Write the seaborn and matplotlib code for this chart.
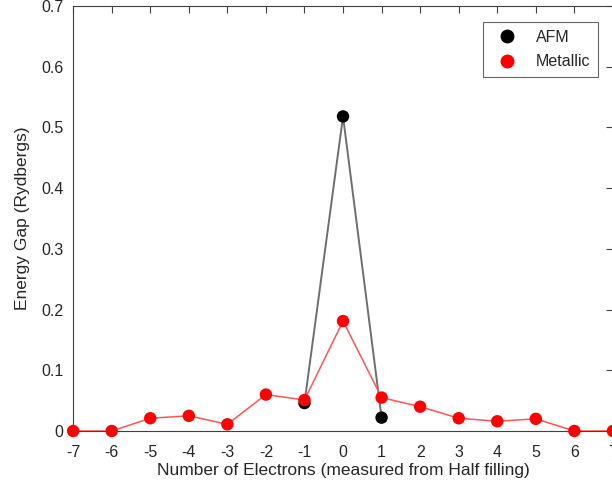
import matplotlib
matplotlib.use("Agg")
import matplotlib.pyplot as plt
import seaborn as sns
import pandas as pd
from matplotlib.lines import Line2D

sns.set_style("white")
plt.rcParams['font.family'] = ['Liberation Sans', 'DejaVu Sans']

afm_x = [-1, 0, 1]
afm_y = [0.046, 0.518, 0.022]
met_x = [-7, -6, -5, -4, -3, -2, -1, 0, 1, 2, 3, 4, 5, 6, 7]
met_y = [0.0, 0.0, 0.021, 0.025, 0.011, 0.060, 0.051, 0.181, 0.055, 0.040, 0.021, 0.016, 0.020, 0.0, 0.0]
xticks = list(range(-7, 8))
yticks = [0, 0.1, 0.2, 0.3, 0.4, 0.5, 0.6, 0.7]
ytick_labels = ["0", "0.1", "0.2", "0.3", "0.4", "0.5", "0.6", "0.7"]

afm = pd.DataFrame({"x": afm_x, "y": afm_y})
met = pd.DataFrame({"x": met_x, "y": met_y})

fig = plt.figure(figsize=(6.12, 4.92), dpi=100)
ax = fig.add_axes([0.1195, 0.124, 0.882, 0.864])

sns.lineplot(data=afm, x="x", y="y", ax=ax, color="#6e6e6e", linewidth=1.4, zorder=2)
sns.lineplot(data=met, x="x", y="y", ax=ax, color="#ff5555", linewidth=1.1, zorder=3)
sns.scatterplot(data=afm, x="x", y="y", ax=ax, color="black", s=80, edgecolor="none", zorder=4, clip_on=False)
sns.scatterplot(data=met, x="x", y="y", ax=ax, color="#ff0000", s=80, edgecolor="none", zorder=5, clip_on=False)

ax.set_xlim(-7, 7)
ax.set_ylim(0, 0.7)
ax.set_xticks(xticks)
ax.set_xticklabels([str(t) for t in xticks])
ax.set_yticks(yticks)
ax.set_yticklabels(ytick_labels)
ax.tick_params(direction="in", length=5, width=0.8, color="#404040", labelsize=11.5,
               labelcolor="#262626", top=True, right=True, pad=7)
ax.tick_params(axis="x", pad=10)
for s in ax.spines.values():
    s.set_color("#404040")
    s.set_linewidth(0.8)

ax.set_xlabel("Number of Electrons (measured from Half filling)", fontsize=12.5, color="#262626", labelpad=2)
ax.set_ylabel("Energy Gap (Rydbergs)", fontsize=12.5, color="#262626", labelpad=8)

handles = [Line2D([], [], marker="o", color="black", linestyle="none", markersize=9),
           Line2D([], [], marker="o", color="#ff0000", linestyle="none", markersize=9)]
leg = ax.legend(handles, ["AFM", "Metallic"], loc="upper right", bbox_to_anchor=(0.988, 0.982),
                fontsize=11.5, frameon=True, fancybox=False, edgecolor="#404040",
                handletextpad=0.8, borderpad=0.5, labelspacing=0.62)
leg.get_frame().set_linewidth(0.8)

fig.savefig("out.png", dpi=100)
